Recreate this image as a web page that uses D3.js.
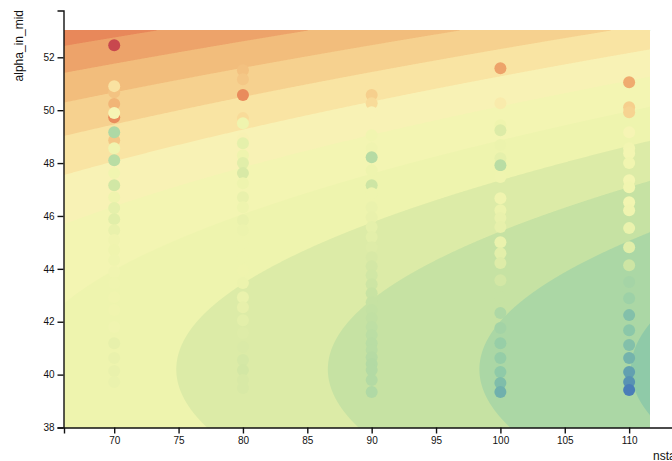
<!DOCTYPE html>
<html>
<head>
<meta charset="utf-8">
<script src="https://cdn.jsdelivr.net/npm/d3@7"></script>
<style>
  html, body { margin: 0; padding: 0; background: #fff; overflow: hidden; }
  svg { display: block; }
</style>
</head>
<body>
<svg id="chart" width="672" height="461"></svg>
<script>
// ---- Runs: station count, alpha_in_mid and the measured metric of each run ----
const nstaLevels = [70, 80, 90, 100, 110];

const alpha70  = [52.46, 50.68, 50.91, 49.73, 50.23, 49.89, 48.86, 49.17, 48.56, 48.11, 47.62, 47.16, 46.71, 46.30,
                  45.88, 45.46, 45.09, 44.71, 44.33, 43.88, 43.46, 42.93, 42.44, 41.80, 41.19, 40.63, 40.14, 39.72];
const metric70 = [13.5, 8.2, 6.6, 10.3, 8.8, 5.0, 8.0, 0.6, 3.8, 1.0, 4.0, 2.0, 3.6, 3.0,
                  2.8, 3.2, 3.8, 3.6, 3.7, 3.9, 3.7, 3.8, 3.8, 3.9, 3.1, 3.2, 3.2, 3.3];

const alpha80  = [51.51, 51.17, 50.57, 49.70, 49.51, 48.94, 48.75, 48.30, 48.00, 47.62, 47.24, 46.71, 46.33, 45.84,
                  45.46, 44.97, 44.44, 43.95, 43.46, 42.93, 42.55, 42.06, 41.57, 41.04, 40.55, 40.17, 39.80, 39.49];
const metric80 = [8.3, 8.0, 10.4, 7.0, 3.6, 5.6, 3.0, 3.6, 2.8, 2.3, 3.5, 3.2, 3.5, 3.2,
                  3.4, 3.5, 3.5, 3.6, 3.4, 3.3, 3.1, 2.9, 2.6, 2.4, 2.2, 2.1, 2.3, 2.3];

const alpha90  = [50.87, 50.57, 50.26, 49.92, 49.05, 48.56, 48.22, 47.73, 47.16, 46.86, 46.33, 45.95, 45.58, 45.20,
                  44.82, 44.44, 44.10, 43.76, 43.42, 43.08, 42.74, 42.44, 42.14, 41.80, 41.50, 41.19, 40.93, 40.66,
                  40.40, 40.17, 39.80, 39.34];
const metric90 = [6.5, 7.6, 7.0, 5.5, 4.0, 3.9, 0.9, 3.5, 1.8, 3.5, 3.3, 3.2, 3.0, 2.9,
                  2.6, 2.3, 2.1, 2.0, 1.8, 1.6, 1.5, 1.4, 1.3, 1.2, 1.1, 1.0, 1.0, 0.9,
                  0.8, 0.8, 0.8, 0.7];

const alpha100  = [51.59, 50.26, 49.43, 49.24, 48.68, 48.18, 47.92, 47.47, 46.67, 46.22, 45.92, 45.58, 45.01, 44.59,
                   44.22, 43.57, 42.93, 42.33, 41.76, 41.19, 40.63, 40.10, 39.68, 39.34];
const metric100 = [9.5, 6.0, 3.6, 2.5, 3.4, 3.0, 1.0, 3.7, 3.8, 3.4, 3.2, 3.1, 3.3, 2.9,
                   2.6, 2.1, 1.5, 0.6, 0.2, -0.2, -0.3, -0.5, -0.9, -1.3];

const alpha110  = [51.06, 50.11, 49.92, 49.17, 48.56, 48.37, 48.00, 47.35, 47.09, 46.52, 46.22, 45.54, 44.82, 44.14,
                   43.50, 42.89, 42.25, 41.68, 41.12, 40.63, 40.10, 39.72, 39.42];
const metric110 = [9.2, 7.6, 7.4, 5.0, 4.2, 4.5, 4.0, 4.4, 4.1, 4.2, 3.9, 3.3, 2.8, 1.8,
                   0.3, 0.0, -0.8, -0.6, -0.8, -1.2, -1.8, -2.3, -3.0];

const alphaByNsta  = [alpha70, alpha80, alpha90, alpha100, alpha110];
const metricByNsta = [metric70, metric80, metric90, metric100, metric110];

// ---- Fitted response surface: metric = b0 + bN*nsta + bA*alpha + bAA*alpha^2 ----
const surfaceCoefs = [76.972, -0.084937, -3.36402, 0.041841];
const surfaceNsta  = [66.1, 111.6];
const surfaceAlpha = [38, 53.02];
const contourLevels = [-1, 0, 1, 2, 3, 4, 5, 6, 7, 8, 9, 10, 11];

// ---- Axis ticks ----
const xTicks = [70, 75, 80, 85, 90, 95, 100, 105, 110];
const yTicks = [38, 40, 42, 44, 46, 48, 50, 52];

// ---- Colour ramp (metric -> colour) ----
const colorStops = [-3, -1.5, -0.5, 0.5, 1.5, 2.5, 3.5, 4.5, 5.5, 6.5, 7.5, 8.5, 9.5, 10.5, 12, 13.5];
const colorRange = ["#4a7db8", "#68a9ae", "#8fcaa8", "#abd7a5", "#c6e2a3", "#dceba7", "#eef4ae",
                    "#f3f5b2", "#f8f2b5", "#f9e4a3", "#f6d18f", "#f2bd7c", "#eda36a", "#e8885a", "#d9634f", "#c8474e"];

const svg = d3.select("#chart");
const fontFamily = "'Liberation Sans', Arial, Helvetica, sans-serif";

const x = d3.scaleLinear().domain([66.1, 115]).range([64, 693.5]);
const y = d3.scaleLinear().domain([38, 53.77]).range([427.5, 10.5]);
const color = d3.scaleLinear().domain(colorStops).range(colorRange).clamp(true);

const surface = (n, a) =>
  surfaceCoefs[0] + surfaceCoefs[1] * n + surfaceCoefs[2] * a + surfaceCoefs[3] * a * a;

// ---- Filled contours of the surface, sampled once per pixel ----
const gx0 = Math.round(x(surfaceNsta[0])), gx1 = Math.round(x(surfaceNsta[1]));
const gy0 = Math.round(y(surfaceAlpha[1])), gy1 = Math.round(y(surfaceAlpha[0]));
const gw = gx1 - gx0, gh = gy1 - gy0;
const grid = new Float64Array(gw * gh);
for (let j = 0; j < gh; j++) {
  const a = y.invert(gy0 + j + 0.5);
  for (let i = 0; i < gw; i++) {
    grid[j * gw + i] = surface(x.invert(gx0 + i + 0.5), a);
  }
}
const bands = d3.contours().size([gw, gh]).thresholds(contourLevels)(grid);

svg.append("g")
  .attr("transform", `translate(${gx0},${gy0})`)
  .selectAll("path")
  .data(bands)
  .join("path")
  .attr("d", d3.geoPath())
  .attr("fill", d => color(d.value + 0.5));

// ---- Runs as dots coloured by their metric ----
const runs = nstaLevels.flatMap((n, k) =>
  alphaByNsta[k].map((a, i) => ({ nsta: n, alpha: a, metric: metricByNsta[k][i] })));

svg.append("g")
  .selectAll("circle")
  .data(runs)
  .join("circle")
  .attr("cx", d => x(d.nsta))
  .attr("cy", d => y(d.alpha))
  .attr("r", 6)
  .attr("fill", d => color(d.metric));

// ---- Axes ----
function styleAxis(g) {
  g.attr("font-family", fontFamily).attr("font-size", 10);
  g.selectAll(".domain, .tick line").attr("stroke", "#111").attr("stroke-width", 1.4);
  g.selectAll(".tick text").attr("fill", "#111");
}

svg.append("g")
  .attr("transform", "translate(0,427.5)")
  .call(d3.axisBottom(x).tickValues(xTicks))
  .call(styleAxis);

svg.append("g")
  .attr("transform", "translate(63.5,0)")
  .call(d3.axisLeft(y).tickValues(yTicks))
  .call(styleAxis);

svg.append("text")
  .attr("transform", "rotate(-90)")
  .attr("x", -10)
  .attr("y", 23)
  .attr("text-anchor", "end")
  .attr("font-family", fontFamily)
  .attr("font-size", 12)
  .attr("fill", "#111")
  .text("alpha_in_mid");

// x-axis title sits at the right end of the axis
svg.append("text")
  .attr("x", 653)
  .attr("y", 460)
  .attr("font-family", fontFamily)
  .attr("font-size", 12)
  .attr("fill", "#111")
  .text("nstations");
</script>
</body>
</html>
